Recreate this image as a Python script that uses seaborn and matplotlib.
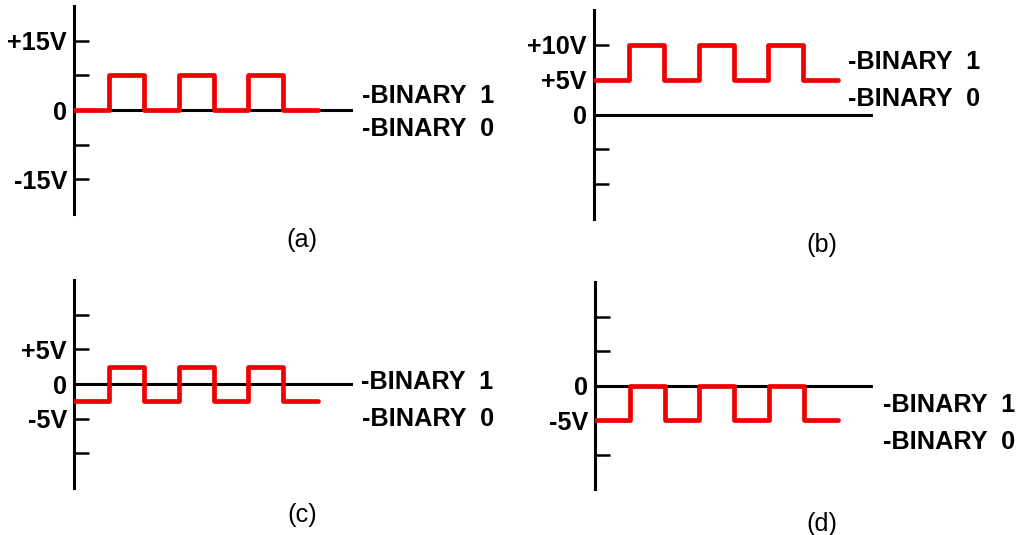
import matplotlib
matplotlib.use("Agg")
import matplotlib.pyplot as plt
import seaborn as sns
import pandas as pd

# --- data -------------------------------------------------------------
# bit boundaries (one unit per half period) and the voltage levels
steps = [0, 1, 2, 3, 4, 5, 6, 7]
wave_a = [0, 7.5, 0, 7.5, 0, 7.5, 0, 0]
wave_b = [5, 10, 5, 10, 5, 10, 5, 5]
wave_c = [-2.5, 2.5, -2.5, 2.5, -2.5, 2.5, -2.5, -2.5]
wave_d = [-5, 0, -5, 0, -5, 0, -5, -5]

ticks_a = [15, 7.5, 0, -7.5, -15]
labels_a = ["+15V", "", "0", "", "-15V"]
ticks_b = [10, 5, 0, -5, -10]
labels_b = ["+10V", "+5V", "0", "", ""]
ticks_c = [10, 5, 0, -5, -10]
labels_c = ["", "+5V", "0", "-5V", ""]
ticks_d = [10, 5, 0, -5, -10]
labels_d = ["", "", "0", "-5V", ""]

legend_1 = "-BINARY  1"
legend_0 = "-BINARY  0"
captions = ["(a)", "(b)", "(c)", "(d)"]

# --- style ------------------------------------------------------------
sns.set_style("white")
plt.rcParams['font.family'] = ['Liberation Sans', 'DejaVu Sans']
plt.rcParams['text.color'] = 'black'

W, H = 1019, 535
RED = "#f00000"
FS = 18.2

fig = plt.figure(figsize=(W / 100, H / 100), dpi=100)
fig.patch.set_facecolor("white")


def px_rect(left, top, right, bottom):
    return [left / W, 1 - bottom / H, (right - left) / W, (bottom - top) / H]


def fig_xy(x, y):
    return x / W, 1 - y / H


# panel layout: axes rect in pixels, y limit, text anchors in pixels
panels = [
    dict(rect=(74, 6, 353, 214), ylim=22.5, wave=wave_a, ticks=ticks_a, labels=labels_a,
         b1=(362, 96), b0=(362, 129), cap=(302, 240)),
    dict(rect=(594, 10, 873, 219), ylim=15, wave=wave_b, ticks=ticks_b, labels=labels_b,
         b1=(848, 62), b0=(848, 99), cap=(822, 245)),
    dict(rect=(74, 280, 353, 488), ylim=15, wave=wave_c, ticks=ticks_c, labels=labels_c,
         b1=(361, 382), b0=(362, 419), cap=(302, 515)),
    dict(rect=(595, 282, 873, 489), ylim=15, wave=wave_d, ticks=ticks_d, labels=labels_d,
         b1=(883, 405), b0=(883, 442), cap=(822, 524)),
]

for p, cap in zip(panels, captions):
    ax = fig.add_axes(px_rect(*p['rect']))
    ax.patch.set_alpha(0)
    df = pd.DataFrame({'t': steps, 'v': p['wave']})
    sns.lineplot(data=df, x='t', y='v', ax=ax, color=RED, lw=3.4,
                 drawstyle='steps-post', estimator=None, zorder=3)
    ax.axhline(0, color='black', lw=2.2, zorder=2)

    ax.set_xlim(0, 8)
    ax.set_ylim(-p['ylim'], p['ylim'])
    ax.set_xticks([])
    ax.set_yticks(p['ticks'])
    ax.set_yticklabels(p['labels'], fontweight='bold', fontsize=FS, color='black')
    ax.set_xlabel('')
    ax.set_ylabel('')
    for s in ['top', 'right', 'bottom']:
        ax.spines[s].set_visible(False)
    ax.spines['left'].set_linewidth(2.2)
    ax.spines['left'].set_color('black')
    ax.tick_params(axis='y', direction='in', length=11, width=1.8, pad=5,
                   color='black', left=True)

    fig.text(*fig_xy(*p['b1']), legend_1, ha='left', va='center',
             fontsize=FS, fontweight='bold')
    fig.text(*fig_xy(*p['b0']), legend_0, ha='left', va='center',
             fontsize=FS, fontweight='bold')
    fig.text(*fig_xy(*p['cap']), cap, ha='center', va='center', fontsize=FS)

fig.savefig("out.png", dpi=100, facecolor="white")
